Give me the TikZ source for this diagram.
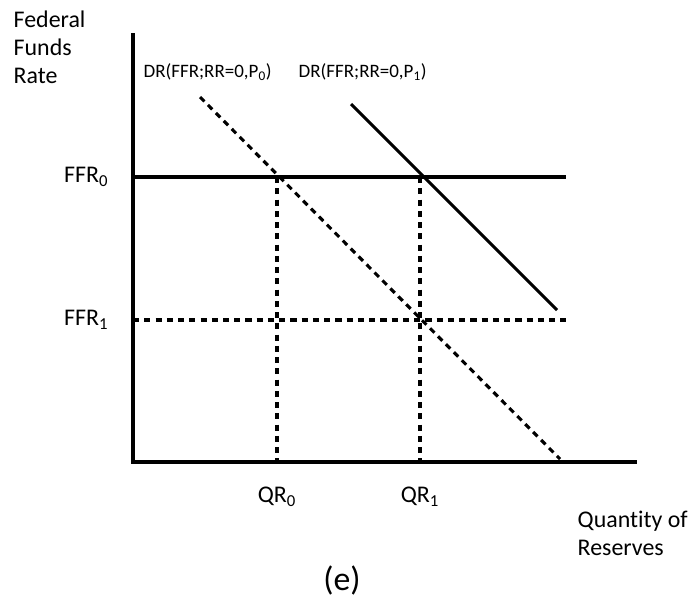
\documentclass[tikz,border=0pt]{standalone}
\usepackage{fontspec}
\setmainfont{Carlito}[Ligatures=NoCommon]
\usetikzlibrary{positioning,calc}
\definecolor{fedink}{HTML}{000000}
\tikzset{
  ax/.style={line width=2.6pt, color=fedink},
  crv/.style={line width=2.2pt, color=fedink},
  dsh/.style={line width=2.2pt, color=fedink, dash pattern=on 4.4pt off 3.6pt},
  lbl/.style={font=\fontsize{17}{20}\selectfont, inner sep=1pt, align=left},
  dlbl/.style={font=\fontsize{13.5}{15}\selectfont, inner sep=1pt},
}

\begin{document}
\begin{tikzpicture}[x=0.025cm, y=-0.025cm]
    \useasboundingbox (0,0) rectangle (696,608);
    % axes
    \coordinate (o) at (133,462);
    \coordinate (ytop) at (133,33);
    \coordinate (xend) at (637,462);
    \draw[ax] (ytop) -- (o) -- (xend);
    % levels
    \coordinate (f0) at (133,177);
    \coordinate (f0e) at (566,177);
    \coordinate (f1) at (133,320);
    \coordinate (f1e) at (566,320);
    \draw[crv] (f0) -- (f0e);
    \draw[dsh] (f1) -- (f1e);
    % demand curves
    \coordinate (d0a) at (200,97);
    \coordinate (d0b) at (560,459);
    \coordinate (d1a) at (351,104);
    \coordinate (d1b) at (557,310);
    \draw[dsh] (d0a) -- (d0b);
    \draw[crv] (d1a) -- (d1b);
    % drop lines
    \coordinate (q0) at (277,177);
    \coordinate (q1) at (420,177);
    \draw[dsh] (q0) -- (q0 |- o);
    \draw[dsh] (q1) -- (q1 |- o);
    % labels
    \node[lbl, anchor=north west] (yl) at (12,9) {Federal\\Funds\\Rate};
    \node[dlbl, anchor=west] (dr0) at (142,72) {DR(FFR;RR=0,P\textsubscript{0})};
    \node[dlbl, anchor=west] (dr1) at (297,72) {DR(FFR;RR=0,P\textsubscript{1})};
    \node[lbl, anchor=east] (ffr0) at (110,177) {FFR\textsubscript{0}};
    \node[lbl, anchor=east] (ffr1) at (110,320) {FFR\textsubscript{1}};
    \node[lbl] (qr0) at (277,497) {QR\textsubscript{0}};
    \node[lbl] (qr1) at (420,497) {QR\textsubscript{1}};
    \node[lbl, anchor=north west] (xl) at (576,509) {Quantity of\\Reserves};
    \node[font=\fontsize{24}{28}\selectfont] (cap) at (342,580) {(e)};
  \end{tikzpicture}
\end{document}
